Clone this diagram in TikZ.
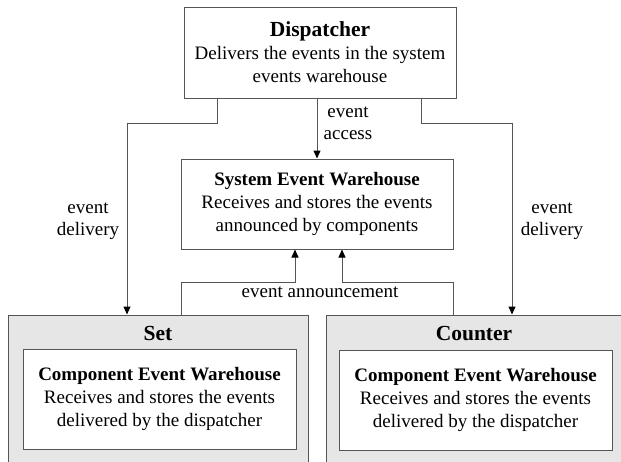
\documentclass[tikz,border=0pt]{standalone}
\usepackage{fontspec}
\setmainfont{Liberation Serif}
\usetikzlibrary{arrows.meta}
\definecolor{linegray}{HTML}{555555}
\definecolor{fillgray}{HTML}{E6E6E6}
\begin{document}
\begin{tikzpicture}[x=1pt,y=-1pt,
  every node/.style={font=\fontsize{19}{23}\selectfont, align=center, inner sep=0pt},
  box/.style={draw=linegray, line width=1pt, fill=white},
  outerbox/.style={draw=linegray, line width=1pt, fill=fillgray},
  big/.style={font=\fontsize{21.5}{23}\selectfont\bfseries},
  conn/.style={draw=linegray, line width=1pt},
  arr/.style={conn, -{Triangle[length=8pt,width=7pt,fill=black,color=black]}},
  lbl/.style={font=\fontsize{19}{22}\selectfont}
]
\useasboundingbox (0,0) rectangle (621,461);
\clip (0,0) rectangle (621,461);

% boxes
\node[box, minimum width=272pt, minimum height=91pt] (disp) at (320,52.5)
  {{\fontsize{21.5}{23}\selectfont\bfseries Dispatcher}\\Delivers the events in the system\\events warehouse};
\node[box, minimum width=272pt, minimum height=90pt] (sew) at (317,204)
  {\textbf{System Event Warehouse}\\Receives and stores the events\\announced by components};

\node[outerbox, minimum width=300pt, minimum height=160pt] (setbox) at (158,395) {};
\node[outerbox, minimum width=299pt, minimum height=160pt] (ctrbox) at (475.5,395) {};

\node[big] (settitle) at (158,333) {Set};
\node[big] (ctrtitle) at (474,334) {Counter};

\node[box, minimum width=273pt, minimum height=100pt] (setin) at (159.5,399)
  {\textbf{Component Event Warehouse}\\Receives and stores the events\\delivered by the dispatcher};
\node[box, minimum width=273pt, minimum height=100pt] (ctrin) at (475.5,400)
  {\textbf{Component Event Warehouse}\\Receives and stores the events\\delivered by the dispatcher};

% connectors
\coordinate (dl) at (127,123);
\coordinate (dr) at (512,123);
\coordinate (al) at (181,282);
\coordinate (ar) at (453,282);

\draw[arr] ([xshift=-103pt]disp.south) |- (dl) -- (dl |- setbox.north);
\draw[arr] ([xshift=101pt]disp.south) |- (dr) -- (dr |- ctrbox.north);
\draw[arr] (sew.north |- disp.south) -- (sew.north);

\draw[arr] (al |- setbox.north) -- (al) -| ([xshift=-22pt]sew.south);
\draw[arr] (ar |- ctrbox.north) -- (ar) -| ([xshift=25pt]sew.south);

% labels
\node[lbl] (lacc) at (348,123) {event\\access};
\node[lbl] (ldl) at (88,221) {event\\delivery};
\node[lbl] (ldr) at (552,221) {event\\delivery};
\node[lbl] (lann) at (320,292) {event announcement};
\end{tikzpicture}
\end{document}
